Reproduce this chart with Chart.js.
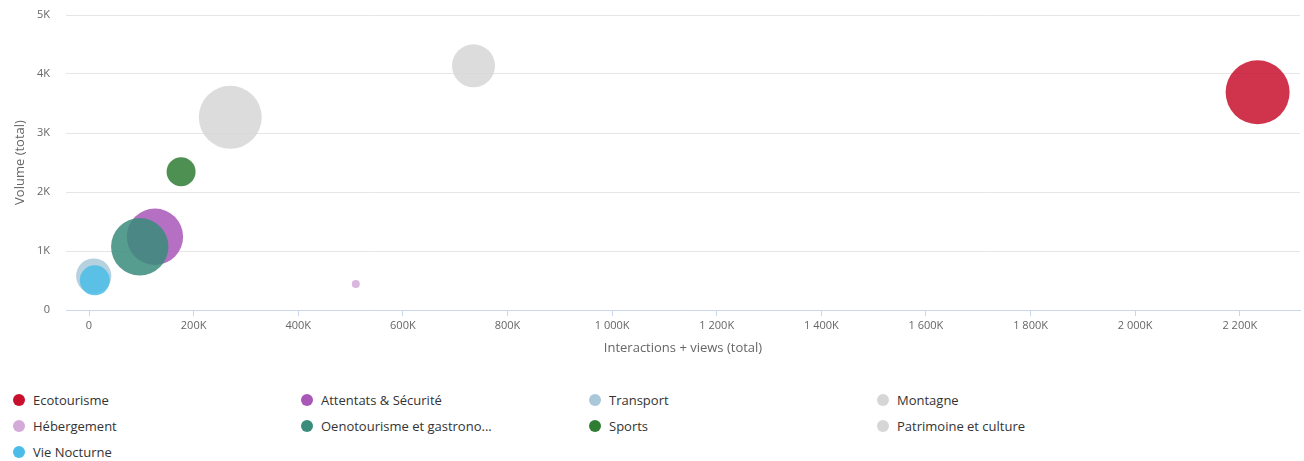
<!DOCTYPE html>
<html lang="fr">
<head>
<meta charset="utf-8">
<title>Interactions vs volume</title>
<script src="https://cdn.jsdelivr.net/npm/chart.js@4.4.1/dist/chart.umd.min.js"></script>
<style>
  body { margin: 0; background: #fff; font-family: "Open Sans", sans-serif; }
  #wrap { position: relative; width: 1304px; height: 370px; }
  #legend {
    position: absolute; left: 13px; top: 387px;
    display: grid; grid-template-columns: repeat(4, 288px); grid-auto-rows: 26px;
  }
  .item { display: flex; align-items: center; font-size: 13px; color: #333; white-space: nowrap; }
  .dot { width: 12px; height: 12px; border-radius: 50%; margin-right: 8px; flex: none; }
</style>
</head>
<body>
<div id="wrap"><canvas id="chart" width="1304" height="370"></canvas></div>
<div id="legend"></div>
<script>
// Topics, x = interactions + views, y = volume, weight drives bubble size
const categories = ['Ecotourisme', 'Attentats & Sécurité', 'Transport', 'Montagne', 'Hébergement',
  'Oenotourisme et gastronomie', 'Sports', 'Patrimoine et culture', 'Vie Nocturne'];
const interactions = [2234000, 126000, 9000, 735000, 510000, 97000, 176000, 270000, 11000];
const volumes = [3690, 1242, 576, 4139, 440, 1073, 2344, 3266, 503];
const weights = [1024, 795, 310, 462, 16, 824, 210, 992, 225];
const xTicks = [0, 200000, 400000, 600000, 800000, 1000000, 1200000, 1400000, 1600000, 1800000, 2000000, 2200000];
const yTicks = [0, 1000, 2000, 3000, 4000, 5000];

const colors = ['#c8102e', '#a957b9', '#a9c9da', '#d6d6d6', '#d4aad9', '#3a8c7b', '#2f7d32', '#d6d6d6', '#4bbde8'];

function fade(hex, a) {
  const n = parseInt(hex.slice(1), 16);
  return `rgba(${n >> 16},${(n >> 8) & 255},${n & 255},${a})`;
}

// "1 000K" style labels
function kLabel(v) {
  if (v === 0) return '0';
  return String(Math.round(v / 1000)).replace(/\B(?=(\d{3})+(?!\d))/g, ' ') + 'K';
}

// keep the plot area where the layout padding puts it
function noEdgePadding(s) {
  s.paddingLeft = s.paddingRight = s.paddingTop = s.paddingBottom = 0;
}

// later series are painted over earlier ones
const datasets = categories.map((name, i) => ({
  label: name,
  order: categories.length - i,
  data: [{ x: interactions[i], y: volumes[i], r: Math.sqrt(weights[i]) }],
  backgroundColor: fade(colors[i], 0.85),
  borderWidth: 0,
  hoverBorderWidth: 0
}));

const tickFont = { family: '"Open Sans", sans-serif', size: 11 };
const titleFont = { family: '"Open Sans", sans-serif', size: 13 };

new Chart(document.getElementById('chart'), {
  type: 'bubble',
  data: { datasets },
  options: {
    responsive: false,
    animation: false,
    layout: { autoPadding: false, padding: { top: 15, right: 4, left: 0, bottom: 0 } },
    plugins: { legend: { display: false }, tooltip: { enabled: false } },
    scales: {
      x: {
        type: 'linear',
        min: -44000,
        max: 2315000,
        afterBuildTicks: s => { s.ticks = xTicks.map(v => ({ value: v })); },
        afterFit: s => { s.height = 60; noEdgePadding(s); },
        ticks: { font: tickFont, color: '#666', padding: 3, maxRotation: 0, callback: v => kLabel(v) },
        grid: { drawOnChartArea: false, drawTicks: true, tickLength: 6, color: '#ccd6eb' },
        border: { color: '#ccd6eb' },
        title: { display: true, text: 'Interactions + views (total)', font: titleFont, color: '#666', padding: { top: 4, bottom: 14 } }
      },
      y: {
        min: 0,
        max: 5000,
        afterBuildTicks: s => { s.ticks = yTicks.map(v => ({ value: v })); },
        afterFit: s => { s.width = 66; noEdgePadding(s); },
        ticks: { font: tickFont, color: '#666', padding: 16, callback: v => kLabel(v) },
        grid: { color: '#e6e6e6', drawTicks: false },
        border: { display: false },
        title: { display: true, text: 'Volume (total)', font: titleFont, color: '#666', padding: { top: 12, bottom: 0 } }
      }
    }
  }
});

// Legend in four columns, long names cut short
const legend = document.getElementById('legend');
categories.forEach((name, i) => {
  const item = document.createElement('div');
  item.className = 'item';
  const dot = document.createElement('span');
  dot.className = 'dot';
  dot.style.background = colors[i];
  const text = document.createElement('span');
  text.textContent = name.length > 24 ? name.slice(0, 24) + '...' : name;
  item.append(dot, text);
  legend.appendChild(item);
});
</script>
</body>
</html>
